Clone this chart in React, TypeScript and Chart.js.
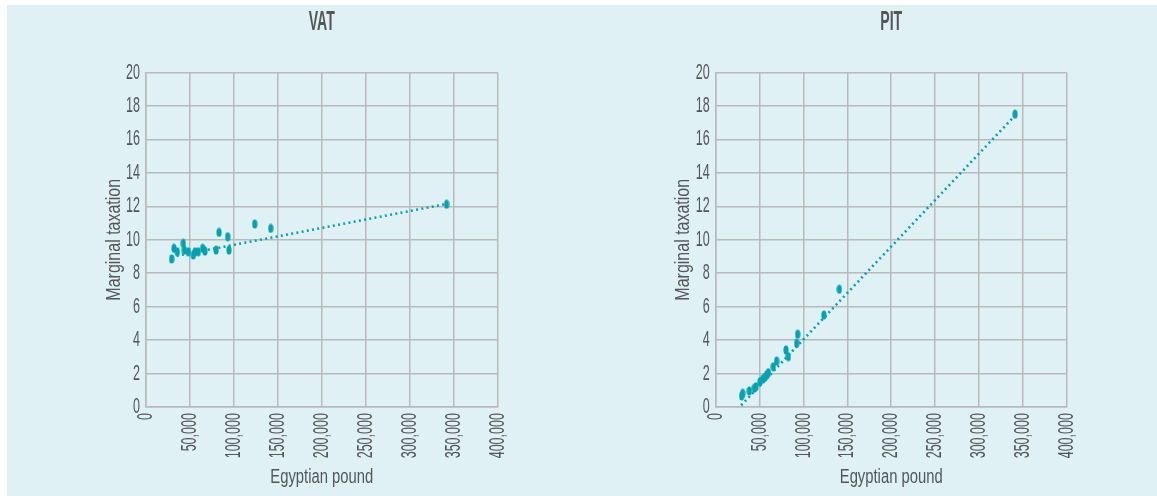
import React, { useEffect, useRef } from "react";
import { Chart, registerables } from "chart.js";

Chart.register(...registerables);

// ---------- data ----------
const xTickValues = [0, 50000, 100000, 150000, 200000, 250000, 300000, 350000, 400000];
const xTickLabels = ["0", "50,000", "100,000", "150,000", "200,000", "250,000", "300,000", "350,000", "400,000"];
const yTickLabels = ["0", "2", "4", "6", "8", "10", "12", "14", "16", "18", "20"];

const vatIncome = [29200, 31900, 35600, 42400, 43600, 48100, 53800, 55800, 59500, 64500, 67100, 79700, 83100, 93000, 94400, 123700, 141900, 342100];
const vatRate = [8.85, 9.49, 9.28, 9.78, 9.38, 9.28, 9.09, 9.28, 9.28, 9.49, 9.32, 9.38, 10.44, 10.18, 9.38, 10.94, 10.68, 12.12];
const vatTrendIncome = [29000, 342000];
const vatTrendRate = [8.98, 12.14];

const pitIncome = [29600, 30800, 38300, 44000, 45900, 50500, 53500, 56200, 58100, 60000, 65600, 69500, 80100, 82700, 92300, 93500, 123400, 140900, 341100];
const pitRate = [0.66, 0.82, 0.96, 1.12, 1.21, 1.51, 1.66, 1.78, 1.91, 2.05, 2.41, 2.75, 3.41, 3.01, 3.81, 4.35, 5.5, 7.04, 17.51];
const pitTrendIncome = [29000, 341000];
const pitTrendRate = [0.1, 17.42];

const panelTitles = ["VAT", "PIT"];
const xAxisTitle = "Egyptian pound";
const yAxisTitle = "Marginal taxation";

// ---------- styles ----------
const FONT = "'Liberation Sans', Arial, sans-serif";
const TEXT = "#545557";
const GRID = "#b9b9b9";
const TEAL = "#00a2b3";
const BG = "#e0f1f5";

const TICK_SIZE = 22;
const X_TITLE_SIZE = 20;
const Y_TITLE_SIZE = 20.5;
const PANEL_TITLE_SIZE = 27;
// horizontal condensing per font size (imitates the condensed typeface)
const CONDENSE: Record<number, number> = { 22: 0.57, 20: 0.74, 20.5: 0.78, 27: 0.52 };

const condensePlugin = {
  id: "condense",
  beforeDraw(chart: any) {
    const ctx = chart.ctx as any;
    if (ctx.__condensed) return;
    const orig = ctx.fillText.bind(ctx);
    ctx.fillText = (text: string, x: number, y: number, maxWidth?: number) => {
      const m = /(\d+(?:\.\d+)?)px/.exec(ctx.font);
      const size = m ? parseFloat(m[1]) : 0;
      const sx = CONDENSE[size] ?? 1;
      if (sx === 1) return orig(text, x, y, maxWidth);
      ctx.save();
      ctx.translate(x, y);
      ctx.scale(sx, 1);
      if (maxWidth === undefined) orig(text, 0, 0);
      else orig(text, 0, 0, maxWidth / sx);
      ctx.restore();
    };
    ctx.__condensed = true;
  },
};

function makeDot(color: string) {
  const c = document.createElement("canvas");
  c.width = 6;
  c.height = 10;
  const g = c.getContext("2d")!;
  g.fillStyle = color;
  g.beginPath();
  g.ellipse(3, 5, 2.6, 4.5, 0, 0, Math.PI * 2);
  g.fill();
  return c;
}

type PanelProps = {
  title: string;
  xs: number[];
  ys: number[];
  tx: number[];
  ty: number[];
  left: number;
  width: number;
  plotLeft: number;
  plotRight: number;
};

function Panel(p: PanelProps) {
  const ref = useRef<HTMLCanvasElement | null>(null);
  useEffect(() => {
    if (!ref.current) return;
    const dot = makeDot(TEAL);
    const xLH = X_TITLE_SIZE * 1.2;
    const yLH = Y_TITLE_SIZE * 1.2;
    const titleLH = PANEL_TITLE_SIZE * 1.2;
    const chart = new Chart(ref.current, {
      type: "scatter",
      plugins: [condensePlugin],
      data: {
        datasets: [
          {
            label: "points",
            data: p.xs.map((x, i) => ({ x, y: p.ys[i] })),
            pointStyle: dot as any,
            pointRadius: 4,
            backgroundColor: TEAL,
            borderColor: TEAL,
          },
          {
            type: "line" as any,
            label: "trend",
            data: p.tx.map((x, i) => ({ x, y: p.ty[i] })),
            showLine: true,
            borderColor: TEAL,
            borderWidth: 2.6,
            borderDash: [2, 3.3],
            borderCapStyle: "butt",
            pointRadius: 0,
            fill: false,
          } as any,
        ],
      },
      options: {
        animation: false,
        responsive: true,
        maintainAspectRatio: false,
        layout: { padding: { left: 0, top: 0, bottom: 0, right: p.width - p.plotRight } },
        plugins: {
          legend: { display: false },
          tooltip: { enabled: false },
          title: {
            display: true,
            text: p.title,
            fullSize: false,
            color: TEXT,
            font: { family: FONT, size: PANEL_TITLE_SIZE, weight: "bold", lineHeight: 1.2 },
            padding: { top: 22.5 - titleLH / 2, bottom: 72.5 - (22.5 - titleLH / 2) - titleLH },
          },
        },
        scales: {
          x: {
            type: "linear",
            min: 0,
            max: 400000,
            afterBuildTicks: (s: any) => {
              s.ticks = xTickValues.map((v) => ({ value: v }));
            },
            afterFit: (s: any) => {
              s.height = 89;
            },
            ticks: {
              autoSkip: false,
              minRotation: 90,
              maxRotation: 90,
              padding: 6,
              color: TEXT,
              font: { family: FONT, size: TICK_SIZE },
              callback: (_v: any, i: number) => xTickLabels[i],
            },
            grid: { color: GRID, lineWidth: 1.5, drawTicks: false },
            border: { color: GRID, width: 1.5 },
            title: {
              display: true,
              text: xAxisTitle,
              color: TEXT,
              font: { family: FONT, size: X_TITLE_SIZE, lineHeight: 1.2 },
              padding: { top: 0, bottom: 19 - xLH / 2 },
            },
          },
          y: {
            type: "linear",
            min: 0,
            max: 20,
            ticks: {
              stepSize: 2,
              padding: 6,
              color: TEXT,
              font: { family: FONT, size: TICK_SIZE },
              callback: (_v: any, i: number) => yTickLabels[i],
            },
            afterFit: (s: any) => {
              s.width = p.plotLeft;
            },
            grid: { color: GRID, lineWidth: 1.5, drawTicks: false },
            border: { color: GRID, width: 1.5 },
            title: {
              display: true,
              text: yAxisTitle,
              color: TEXT,
              font: { family: FONT, size: Y_TITLE_SIZE, lineHeight: 1.2 },
              padding: { top: p.plotLeft - 32 - yLH / 2, bottom: 0 },
            },
          },
        },
      } as any,
    });
    return () => chart.destroy();
  }, []);
  return (
    <div style={{ position: "absolute", left: p.left, top: 0, width: p.width, height: 496 }}>
      <canvas ref={ref} />
    </div>
  );
}

export default function App() {
  return (
    <div style={{ position: "absolute", left: 0, top: 0, width: 1157, height: 496, overflow: "hidden" }}>
      <div style={{ position: "absolute", left: 7, top: 5, width: 1150, height: 491, background: BG }} />
      <Panel
        title={panelTitles[0]}
        xs={vatIncome}
        ys={vatRate}
        tx={vatTrendIncome}
        ty={vatTrendRate}
        left={0}
        width={578}
        plotLeft={146}
        plotRight={497.5}
      />
      <Panel
        title={panelTitles[1]}
        xs={pitIncome}
        ys={pitRate}
        tx={pitTrendIncome}
        ty={pitTrendRate}
        left={578}
        width={579}
        plotLeft={137.7}
        plotRight={488.7}
      />
    </div>
  );
}
